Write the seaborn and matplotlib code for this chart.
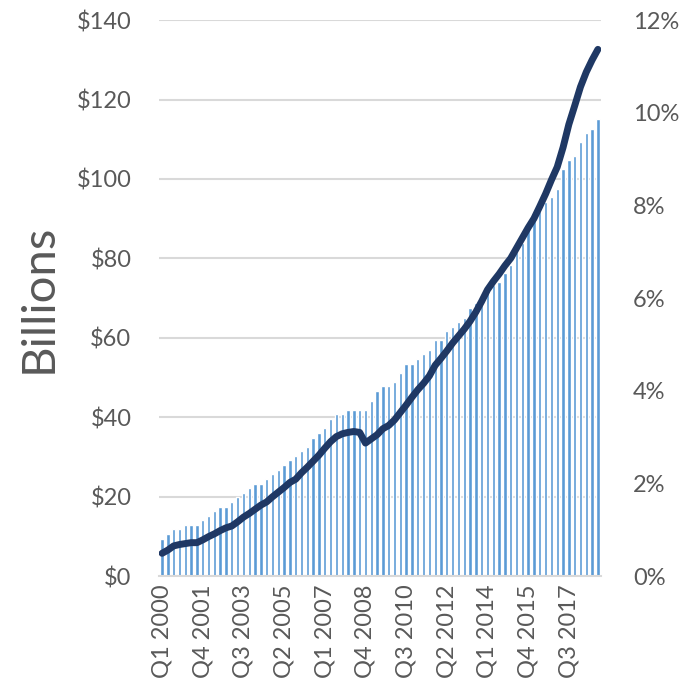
import numpy as np
import pandas as pd
import matplotlib
matplotlib.use("Agg")
import matplotlib.pyplot as plt
import seaborn as sns
from matplotlib.ticker import FuncFormatter

# quarters Q1 2000 .. Q4 2018
years = list(range(2000, 2019))
quarters = [f"Q{q} {y}" for y in years for q in range(1, 5)]

# bars: billions of dollars (left axis)
billions = [
    9.3, 10.5, 11.8, 11.8, 12.8, 12.8, 12.8, 14.1, 15.1, 16.4,
    17.5, 17.5, 18.6, 19.8, 21.0, 22.2, 23.3, 23.3, 24.4, 25.6,
    26.8, 27.9, 29.1, 30.2, 31.4, 32.6, 34.8, 36.1, 37.2, 39.5,
    40.7, 40.7, 41.8, 41.8, 41.8, 41.8, 44.2, 46.5, 47.8, 47.8,
    48.9, 51.1, 53.5, 53.5, 54.6, 55.8, 57.0, 59.4, 59.4, 61.7,
    62.8, 64.0, 65.1, 67.4, 68.7, 71.0, 72.3, 73.2, 74.1, 76.2,
    78.3, 81.7, 83.8, 87.1, 90.1, 91.9, 94.3, 95.4, 97.6, 102.4,
    104.8, 105.8, 109.4, 111.6, 112.7, 115.1,
]

# line: percent (right axis)
share = [
    0.49, 0.56, 0.65, 0.68, 0.70, 0.72, 0.72, 0.78, 0.85, 0.91,
    0.98, 1.04, 1.08, 1.17, 1.27, 1.35, 1.44, 1.53, 1.60, 1.71,
    1.81, 1.91, 2.02, 2.09, 2.23, 2.35, 2.48, 2.61, 2.76, 2.90,
    3.01, 3.07, 3.10, 3.12, 3.10, 2.87, 2.96, 3.05, 3.18, 3.25,
    3.37, 3.53, 3.69, 3.86, 4.02, 4.16, 4.32, 4.55, 4.70, 4.86,
    5.03, 5.18, 5.33, 5.50, 5.70, 5.93, 6.18, 6.36, 6.52, 6.70,
    6.86, 7.08, 7.30, 7.52, 7.72, 7.98, 8.25, 8.55, 8.83, 9.25,
    9.75, 10.15, 10.56, 10.88, 11.14, 11.37,
]

df = pd.DataFrame({"quarter": quarters, "billions": billions, "share": share})
df["pos"] = np.arange(len(df))

sns.set_style("white")
plt.rcParams["font.family"] = ["Lato", "DejaVu Sans"]

text_color = "#595959"
fig = plt.figure(figsize=(6.89, 6.96), dpi=100)
ax = fig.add_axes([0.231, 0.1724, 0.641, 0.7986])

sns.barplot(data=df, x="quarter", y="billions", color="#5B9BD5", width=0.58,
            saturation=1, ax=ax, zorder=2)
ax.set_ylim(0, 140)
ax.set_xlim(-0.5, len(df) - 0.5)
ax.set_yticks(range(0, 141, 20))
ax.yaxis.set_major_formatter(FuncFormatter(lambda v, p: f"${v:.0f}"))
ax.grid(axis="y", color="#D9D9D9", linewidth=1.5, zorder=0)
ax.set_axisbelow(True)
ax.set_xticks(df["pos"][::7])
ax.set_xticklabels(df["quarter"][::7], rotation=90)
ax.set_xlabel("")
ax.set_ylabel("Billions", fontsize=34, color=text_color, labelpad=12)
ax.tick_params(axis="both", length=0, labelsize=17, colors=text_color)
ax.tick_params(axis="y", pad=20)
ax.tick_params(axis="x", pad=6)
for s in ["left", "right", "top"]:
    ax.spines[s].set_visible(False)
ax.spines["bottom"].set_color("#D9D9D9")
ax.spines["bottom"].set_linewidth(1.5)

ax2 = ax.twinx()
sns.lineplot(data=df, x="pos", y="share", color="#1F3864", linewidth=5,
             ax=ax2, solid_capstyle="round")
ax2.set_ylim(0, 12)
ax2.set_yticks(range(0, 13, 2))
ax2.yaxis.set_major_formatter(FuncFormatter(lambda v, p: f"{v:.0f}%"))
ax2.set_ylabel("")
ax2.set_xlabel("")
ax2.tick_params(axis="y", length=0, labelsize=17, colors=text_color, pad=23)
for s in ["left", "right", "top", "bottom"]:
    ax2.spines[s].set_visible(False)
ax2.set_xlim(-0.5, len(df) - 0.5)

fig.savefig("out.png", dpi=100)
